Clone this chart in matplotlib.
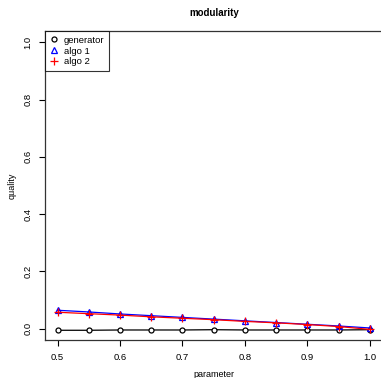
"""Recreate the modularity quality-vs-parameter chart."""

import matplotlib

matplotlib.use("Agg")

import matplotlib.pyplot as plt


PARAMETER = [0.5, 0.55, 0.6, 0.65, 0.7, 0.75, 0.8, 0.85, 0.9, 0.95, 1.0]
GENERATOR = [-0.006, -0.006, -0.005, -0.005, -0.005, -0.004, -0.005, -0.005, -0.005, -0.005, -0.004]
ALGO_1 = [0.064, 0.058, 0.051, 0.045, 0.039, 0.033, 0.027, 0.021, 0.015, 0.009, 0.002]
ALGO_2 = [0.057, 0.052, 0.047, 0.041, 0.036, 0.031, 0.025, 0.020, 0.014, 0.007, -0.003]
X_TICKS = [0.5, 0.6, 0.7, 0.8, 0.9, 1.0]
Y_TICKS = [0.0, 0.2, 0.4, 0.6, 0.8, 1.0]

plt.rcParams["font.family"] = ["Liberation Sans", "DejaVu Sans"]

W, H = 381, 378
fig = plt.figure(figsize=(W / 100, H / 100), dpi=100)
left, right, top, bottom = 45, 382.5, 31, 340
ax = fig.add_axes([left / W, 1 - bottom / H, (right - left) / W, (bottom - top) / H])

ax.plot(PARAMETER, GENERATOR, color="black", linewidth=0.9, marker="o",
        markersize=3.6, markerfacecolor="white", markeredgewidth=0.9,
        label="generator", zorder=3)
ax.plot(PARAMETER, ALGO_1, color="blue", linewidth=0.9, marker="^",
        markersize=4.5, markerfacecolor="none", markeredgewidth=0.9,
        label="algo 1", zorder=4)
ax.plot(PARAMETER, ALGO_2, color="red", linewidth=0.9, marker="+",
        markersize=5.5, markeredgewidth=0.9, label="algo 2", zorder=5)

ax.set_xlim(0.48, 1.02)
ax.set_ylim(-0.04, 1.04)
ax.set_xticks(X_TICKS)
ax.set_yticks(Y_TICKS)
ax.set_xticklabels([f"{v:.1f}" for v in X_TICKS], fontsize=6.8)
ax.set_yticklabels([f"{v:.1f}" for v in Y_TICKS], fontsize=6.8, rotation=90, va="center")
ax.tick_params(direction="out", length=4, width=0.8, pad=5, color="black")
for spine in ax.spines.values():
    spine.set_linewidth(0.9)
    spine.set_color("#333333")

ax.set_title("modularity", fontsize=7, fontweight="bold", pad=11)
ax.set_xlabel("parameter", fontsize=6.5, labelpad=6)
ax.set_ylabel("quality", fontsize=6.5, labelpad=5)

leg = ax.legend(loc="upper left", fontsize=6.8, frameon=True, fancybox=False,
                borderaxespad=0, handlelength=1.0, handletextpad=0.5,
                labelspacing=0.2, borderpad=0.5)
leg.get_frame().set_edgecolor("black")
leg.get_frame().set_linewidth(0.8)
for line in leg.get_lines():
    line.set_linestyle("none")

fig.savefig("out.png", dpi=100)
